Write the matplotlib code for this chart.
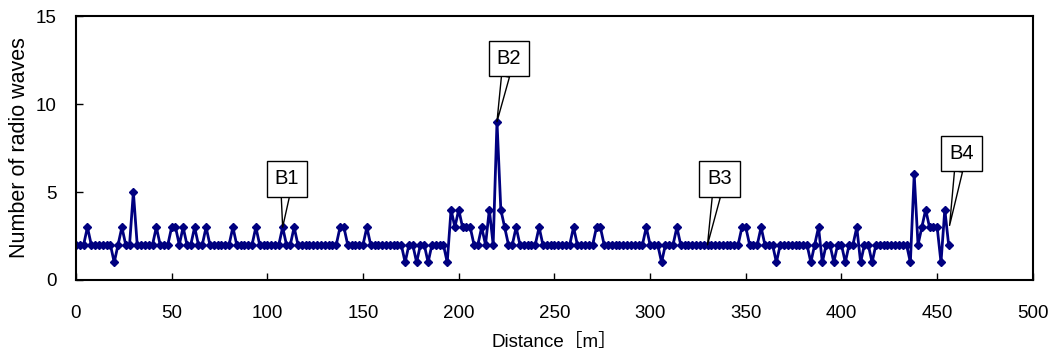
import matplotlib
matplotlib.use('Agg')
import matplotlib.pyplot as plt
import numpy as np

plt.rcParams['font.family'] = ['Liberation Sans', 'Noto Sans CJK JP', 'DejaVu Sans']

# distance every 2 m from 0 to 456 m
distance = np.arange(0, 458, 2)
# number of radio waves read at each distance
waves = [
    2, 2, 2, 3, 2, 2, 2, 2, 2, 2,
    1, 2, 3, 2, 2, 5, 2, 2, 2, 2,
    2, 3, 2, 2, 2, 3, 3, 2, 3, 2,
    2, 3, 2, 2, 3, 2, 2, 2, 2, 2,
    2, 3, 2, 2, 2, 2, 2, 3, 2, 2,
    2, 2, 2, 2, 3, 2, 2, 3, 2, 2,
    2, 2, 2, 2, 2, 2, 2, 2, 2, 3,
    3, 2, 2, 2, 2, 2, 3, 2, 2, 2,
    2, 2, 2, 2, 2, 2, 1, 2, 2, 1,
    2, 2, 1, 2, 2, 2, 2, 1, 4, 3,
    4, 3, 3, 3, 2, 2, 3, 2, 4, 2,
    9, 4, 3, 2, 2, 3, 2, 2, 2, 2,
    2, 3, 2, 2, 2, 2, 2, 2, 2, 2,
    3, 2, 2, 2, 2, 2, 3, 3, 2, 2,
    2, 2, 2, 2, 2, 2, 2, 2, 2, 3,
    2, 2, 2, 1, 2, 2, 2, 3, 2, 2,
    2, 2, 2, 2, 2, 2, 2, 2, 2, 2,
    2, 2, 2, 2, 3, 3, 2, 2, 2, 3,
    2, 2, 2, 1, 2, 2, 2, 2, 2, 2,
    2, 2, 1, 2, 3, 1, 2, 2, 1, 2,
    2, 1, 2, 2, 3, 1, 2, 2, 1, 2,
    2, 2, 2, 2, 2, 2, 2, 2, 1, 6,
    2, 3, 4, 3, 3, 3, 1, 4, 2,
]

# callouts: label, point (x, y), box centre (x, y)
callout_labels = ['B1', 'B2', 'B3', 'B4']
callout_points = [(108, 3), (220, 9), (330, 2), (456.5, 3.1)]
callout_boxes = [(110.2, 5.74), (226.2, 12.6), (336.3, 5.74), (462.7, 7.2)]

fig = plt.figure(figsize=(10.55, 3.58), dpi=100)
ax = fig.add_axes([0.072, 0.218, 0.907, 0.737])

ax.plot(distance, waves, color='#000080', linewidth=2,
        marker='D', markersize=3.8, markerfacecolor='#000080',
        markeredgecolor='#000080')

for lab, pt, box in zip(callout_labels, callout_points, callout_boxes):
    ax.annotate(lab, xy=pt, xytext=box, ha='center', va='center', fontsize=14.5,
                bbox=dict(boxstyle='square,pad=0.4', fc='white', ec='black', lw=1),
                arrowprops=dict(arrowstyle='wedge,tail_width=0.4', fc='white',
                                ec='black', lw=1, shrinkA=0, shrinkB=0),
                zorder=5)

ax.set_xlim(0, 500)
ax.set_ylim(0, 15)
ax.set_xticks(np.arange(0, 501, 50))
ax.set_yticks([0, 5, 10, 15])
ax.tick_params(direction='in', length=5, width=1, labelsize=13.5)
ax.tick_params(axis='x', pad=18)
ax.tick_params(axis='y', pad=14)
for s in ax.spines.values():
    s.set_linewidth(1.5)

ax.set_xlabel('Distance［m］', fontsize=13.5, labelpad=9)
ax.set_ylabel('Number of radio waves', fontsize=15.5, labelpad=4)

fig.savefig('out.png', dpi=100)
